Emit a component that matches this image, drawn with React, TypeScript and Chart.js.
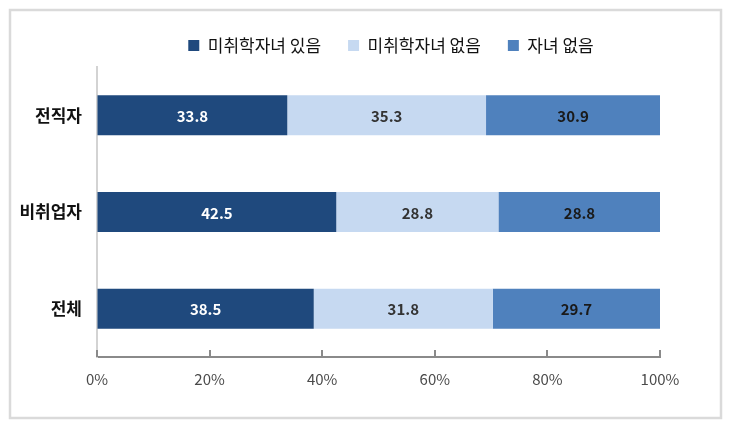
import React, { useEffect, useRef } from "react";
import { Chart, registerables } from "chart.js";

Chart.register(...registerables);

const categories = ["전직자", "비취업자", "전체"];
const seriesNames = ["미취학자녀 있음", "미취학자녀 없음", "자녀 없음"];
const withPreschool = [33.8, 42.5, 38.5];
const withoutPreschool = [35.3, 28.8, 31.8];
const noChildren = [30.9, 28.8, 29.7];
const xTicks = [0, 20, 40, 60, 80, 100];

const colors = ["#1F497D", "#C6D9F1", "#4F81BD"];
const labelColors = ["#ffffff", "#333333", "#1a1a1a"];
const FONT = "'Noto Sans CJK KR', 'Noto Sans', sans-serif";

export default function App() {
  const ref = useRef<HTMLCanvasElement | null>(null);

  useEffect(() => {
    document.body.style.margin = "0";
    const canvas = ref.current;
    if (!canvas) return;

    const frame = {
      id: "frame",
      beforeDraw(chart: any) {
        const ctx = chart.ctx;
        ctx.save();
        ctx.fillStyle = "#ffffff";
        ctx.fillRect(0, 0, chart.width, chart.height);
        ctx.strokeStyle = "#dadada";
        ctx.lineWidth = 2.5;
        ctx.strokeRect(10, 10, 711, 408);
        ctx.restore();
      },
    };

    const legendShift = {
      id: "legendShift",
      beforeInit(chart: any) {
        const legend = chart.legend;
        if (!legend) return;
        const fit = legend.fit;
        legend.fit = function () {
          fit.call(this);
          this.height += 3;
        };
      },
      afterLayout(chart: any) {
        const legend = chart.legend;
        if (!legend) return;
        legend.left = 122;
        legend.right = 660;
        legend.width = 538;
      },
    };

    const axisTicks = {
      id: "axisTicks",
      afterDatasetsDraw(chart: any) {
        const ctx = chart.ctx;
        const x = chart.scales.x;
        const bottom = chart.chartArea.bottom;
        ctx.save();
        ctx.strokeStyle = "#8a8a8a";
        ctx.lineWidth = 2;
        xTicks.forEach((v) => {
          const px = Math.round(x.getPixelForValue(v));
          ctx.beginPath();
          ctx.moveTo(px, bottom);
          ctx.lineTo(px, bottom - 7);
          ctx.stroke();
        });
        ctx.restore();
      },
    };

    const valueLabels = {
      id: "valueLabels",
      afterDatasetsDraw(chart: any) {
        const ctx = chart.ctx;
        ctx.save();
        ctx.font = `bold 15px ${FONT}`;
        ctx.textAlign = "center";
        ctx.textBaseline = "middle";
        chart.data.datasets.forEach((ds: any, di: number) => {
          const meta = chart.getDatasetMeta(di);
          meta.data.forEach((bar: any, i: number) => {
            const cx = (bar.x + bar.base) / 2;
            ctx.fillStyle = labelColors[di];
            ctx.fillText(ds.data[i].toFixed(1), cx, bar.y + 1);
          });
        });
        ctx.restore();
      },
    };

    const chart = new Chart(canvas, {
      type: "bar",
      data: {
        labels: categories,
        datasets: [
          { label: seriesNames[0], data: withPreschool, backgroundColor: colors[0] },
          { label: seriesNames[1], data: withoutPreschool, backgroundColor: colors[1] },
          { label: seriesNames[2], data: noChildren, backgroundColor: colors[2] },
        ],
      },
      options: {
        indexAxis: "y",
        animation: false,
        responsive: false,
        maintainAspectRatio: false,
        datasets: {
          bar: { categoryPercentage: 1, barPercentage: 0.414, borderWidth: 0 },
        },
        layout: { padding: { top: 10, left: 0, right: 70, bottom: 31 } },
        scales: {
          x: {
            stacked: true,
            min: 0,
            max: 100,
            afterBuildTicks(scale: any) {
              scale.ticks = xTicks.map((v) => ({ value: v }));
            },
            afterFit(scale: any) {
              scale.height = 40;
            },
            grid: { display: true, drawOnChartArea: false, drawTicks: false },
            border: { display: true, color: "#8a8a8a", width: 2 },
            ticks: {
              padding: 13,
              color: "#4a4a4a",
              font: { family: FONT, size: 15 },
              callback: (v: any) => `${v}%`,
              maxRotation: 0,
            },
          },
          y: {
            stacked: true,
            afterFit(scale: any) {
              scale.width = 97;
            },
            grid: { display: false, drawTicks: false },
            border: { display: true, color: "#d3d3d3", width: 2 },
            ticks: {
              padding: 15,
              color: "#111111",
              font: { family: FONT, size: 17, weight: "bold" },
            },
          },
        },
        plugins: {
          legend: {
            position: "top",
            labels: {
              boxWidth: 11,
              boxHeight: 11,
              padding: 27,
              color: "#111111",
              font: { family: FONT, size: 17 },
            },
          },
          tooltip: { enabled: false },
        },
      },
      plugins: [frame, legendShift, axisTicks, valueLabels],
    });

    return () => chart.destroy();
  }, []);

  return (
    <div style={{ position: "absolute", left: 0, top: 0, width: 730, height: 428 }}>
      <canvas ref={ref} width={730} height={428} style={{ width: 730, height: 428, display: "block" }} />
    </div>
  );
}
